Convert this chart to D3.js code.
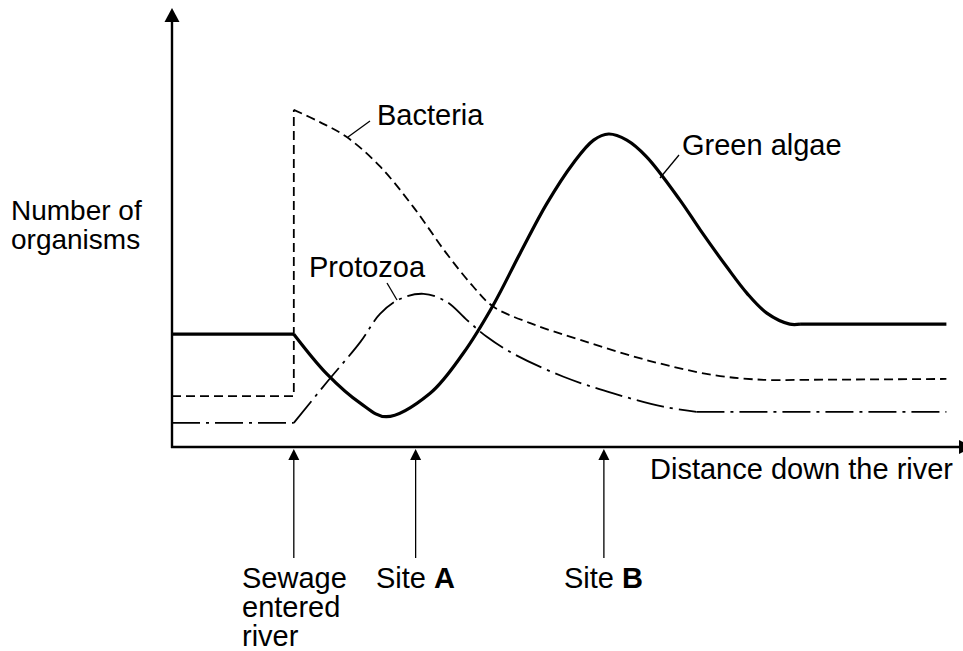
<!DOCTYPE html>
<html><head><meta charset="utf-8">
<script src="https://cdn.jsdelivr.net/npm/d3@7"></script>
<style>html,body{margin:0;padding:0;background:#fff;}svg{display:block;}text{font-family:"Liberation Sans",Arial,sans-serif;fill:#000;}</style>
</head><body>
<svg id="c" width="963" height="651"></svg>
<script>
// Data (distance 0-100, number of organisms 0-100)
const sewageX = 15.4;
const siteAX = 30.8;
const siteBX = 54.6;
const greenBefore = [[0,25.7],[15.4,25.7]];
const greenCurve = [[15.4,25.7],[19.6,16.6],[23.8,10.0],[27.1,6.9],[32.6,12.2],[36.8,21.3],[40.6,32.3],[44.0,44.1],[47.4,55.5],[50.7,64.6],[53.3,69.9],[55.2,71.3],[57.5,69.9],[60.0,66.1],[64.2,56.3],[66.8,49.4],[70.1,41.1],[72.7,35.0],[75.2,30.5],[78.1,28.0],[79.4,28.0]];
const greenTail = [[79.4,28.0],[97.9,28.0]];
const bacteriaBefore = [[0,11.6],[15.4,11.6],[15.4,76.8]];
const bacteriaCurve = [[15.4,76.8],[18.7,74.0],[22.1,70.6],[26.3,63.9],[30.5,54.7],[34.7,44.1],[38.1,36.5],[40.6,32.0],[45.3,28.2],[51.6,24.4],[60.0,19.8],[68.4,16.4],[74.8,15.3],[79.4,15.3]];
const bacteriaTail = [[79.4,15.3],[97.9,15.5]];
const protozoaBefore = [[0,5.5],[15.4,5.5]];
const protozoaCurve = [[15.4,5.5],[19.6,14.8],[23.8,23.9],[26.3,30.3],[28.8,33.7],[31.8,34.9],[34.7,33.1],[37.3,28.9],[39.8,25.1],[43.1,21.3],[49.5,16.0],[55.8,12.2],[62.1,9.2],[66.3,8.0]];
const protozoaTail = [[66.3,8.0],[97.9,8.0]];
const siteLabels = [
  {x: sewageX, lines: ["Sewage","entered","river"], bold: null},
  {x: siteAX, lines: ["Site "], bold: "A"},
  {x: siteBX, lines: ["Site "], bold: "B"}
];
const yLabel = ["Number of","organisms"];
const xLabel = "Distance down the river";

const svg = d3.select("#c");
const x = d3.scaleLinear().domain([0,100]).range([172,963]);
const y = d3.scaleLinear().domain([0,100]).range([447,8]);
const FS = 29;

// axes
svg.append("line").attr("x1",x(0)).attr("x2",x(0)).attr("y1",y(0)+1).attr("y2",y(100)+12)
  .attr("stroke","#000").attr("stroke-width",2.4);
svg.append("path").attr("d",`M${x(0)},${y(100)} L${x(0)-7.5},${y(100)+14} L${x(0)+7.5},${y(100)+14} Z`).attr("fill","#000");
svg.append("line").attr("x1",x(0)-1).attr("x2",x(100)).attr("y1",y(0)).attr("y2",y(0))
  .attr("stroke","#000").attr("stroke-width",2.4);
svg.append("path").attr("d",`M${x(100)+10},${y(0)} L${x(100)-4},${y(0)-7} L${x(100)-4},${y(0)+7} Z`).attr("fill","#000");

const lin = d3.line().x(d=>x(d[0])).y(d=>y(d[1]));
const crv = d3.line().x(d=>x(d[0])).y(d=>y(d[1])).curve(d3.curveCatmullRom.alpha(0.5));

function series(before, curve, tail, w, dash){
  const g = svg.append("g").attr("fill","none").attr("stroke","#000").attr("stroke-width",w).attr("stroke-dasharray",dash).attr("stroke-linejoin","round");
  g.append("path").attr("d",lin(before));
  g.append("path").attr("d",crv(curve));
  g.append("path").attr("d",lin(tail));
}
series(bacteriaBefore, bacteriaCurve, bacteriaTail, 1.8, "9,5");
series(protozoaBefore, protozoaCurve, protozoaTail, 1.8, "28,6,3,6");
series(greenBefore, greenCurve, greenTail, 3.2, null);

// labels with leaders
function leader(x1,y1,x2,y2){svg.append("line").attr("x1",x1).attr("y1",y1).attr("x2",x2).attr("y2",y2).attr("stroke","#000").attr("stroke-width",1.3);}
leader(348,137,370,121);
svg.append("text").attr("x",377).attr("y",125).attr("font-size",FS).text("Bacteria");
leader(387,283,397,300);
svg.append("text").attr("x",309).attr("y",277).attr("font-size",FS).text("Protozoa");
leader(660,178,679,155);
svg.append("text").attr("x",682).attr("y",155).attr("font-size",FS).text("Green algae");

// axis labels
yLabel.forEach((t,i)=>svg.append("text").attr("x",11).attr("y",220+i*29).attr("font-size",28).text(t));
svg.append("text").attr("x",650).attr("y",479).attr("font-size",FS).text(xLabel);

// site arrows and labels
siteLabels.forEach(s=>{
  const px = x(s.x);
  svg.append("line").attr("x1",px).attr("x2",px).attr("y1",459).attr("y2",558).attr("stroke","#000").attr("stroke-width",1.3);
  svg.append("path").attr("d",`M${px},${y(0)+2} L${px-5.5},${y(0)+13} L${px+5.5},${y(0)+13} Z`).attr("fill","#000");
});
const lx = [242, 376, 564];
siteLabels.forEach((s,i)=>{
  s.lines.forEach((t,j)=>{
    const tx = svg.append("text").attr("x",lx[i]).attr("y",588+j*29).attr("font-size",FS).attr("xml:space","preserve");
    tx.append("tspan").text(t);
    if(s.bold && j===0) tx.append("tspan").attr("font-weight","bold").text(s.bold);
  });
});
</script>
</body></html>
